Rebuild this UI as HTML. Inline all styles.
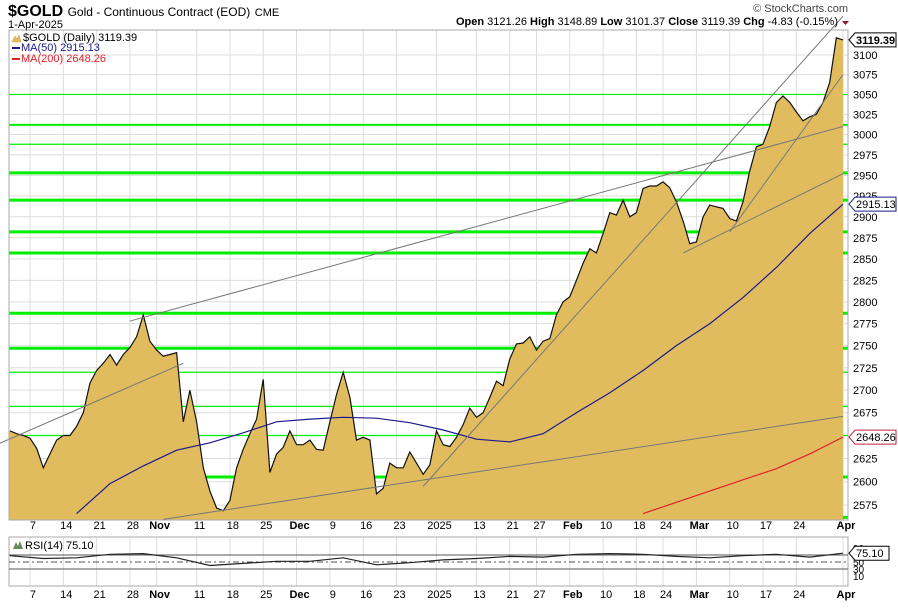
<!DOCTYPE html>
<html><head><meta charset="utf-8"><style>
body{margin:0;background:#fff;}
svg{display:block;font-family:"Liberation Sans",sans-serif;}
</style></head><body>
<svg id="c" width="898" height="608" viewBox="0 0 898 608">
<g id="grid"></g>
<g id="hlines"></g>
<path id="area" fill="#e0bc5e" stroke="none"/>
<path id="pline" fill="none" stroke="#111" stroke-width="1.2"/>
<polyline id="ma50" fill="none" stroke="#1a1a8c" stroke-width="1.2"/>
<polyline id="ma200" fill="none" stroke="#e0202a" stroke-width="1.2"/>
<g id="trend" stroke="#777" stroke-width="1"></g>
<rect x="9" y="30" width="839" height="490" fill="none" stroke="#aaa"/>
<g id="yax" font-size="11" fill="#000"></g>
<g id="xax" font-size="11" fill="#000"></g>
<g id="rsi"></g>
<text x="8" y="16" font-size="16" font-weight="bold">$GOLD <tspan font-size="12" font-weight="normal">Gold - Continuous Contract (EOD)</tspan> <tspan font-size="11" font-weight="normal">CME</tspan></text>
<text x="8" y="28" font-size="11">1-Apr-2025</text>
<text x="848" y="12" font-size="11" fill="#444" text-anchor="end">© StockCharts.com</text>
<text x="838" y="25" font-size="11" text-anchor="end"><tspan font-weight="bold">Open</tspan> 3121.26 <tspan font-weight="bold">High</tspan> 3148.89 <tspan font-weight="bold">Low</tspan> 3101.37 <tspan font-weight="bold">Close</tspan> 3119.39 <tspan font-weight="bold">Chg</tspan> -4.83 (-0.15%)</text>
<path d="M842 21 L849 21 L845.5 25 Z" fill="#8b1a2a"/>
<g font-size="11">
<path d="M12 42 L15 36 L17 39 L19 35 L21 42 Z" fill="#e0bc5e" stroke="#c9a040" stroke-width="0.5"/>
<text x="23" y="41">$GOLD (Daily) 3119.39</text>
<rect x="12" y="47" width="8" height="2" fill="#1a1a8c"/><text x="21" y="51" fill="#1a1a8c">MA(50) 2915.13</text>
<rect x="12" y="58" width="8" height="2" fill="#e0202a"/><text x="21" y="62" fill="#e0202a">MA(200) 2648.26</text>
</g>
</svg>
<script>
const prices=[2655,2652,2650,2647,2636,2615,2630,2645,2650,2650,2660,2675,2708,2722,2730,2740,2728,2740,2748,2760,2785,2755,2745,2738,2740,2742,2665,2700,2665,2615,2590,2572,2569,2580,2615,2635,2652,2668,2712,2610,2630,2637,2655,2640,2640,2645,2635,2634,2665,2695,2720,2692,2645,2648,2645,2587,2593,2620,2615,2615,2632,2620,2608,2618,2655,2640,2638,2648,2662,2680,2670,2675,2692,2710,2705,2735,2752,2753,2760,2745,2755,2758,2785,2800,2806,2825,2845,2862,2857,2880,2905,2902,2920,2900,2905,2934,2937,2937,2942,2935,2918,2895,2868,2870,2900,2914,2912,2910,2898,2895,2918,2955,2985,2988,3010,3040,3048,3040,3028,3017,3022,3025,3040,3065,3122,3119.39];
const ma50Start=10;
const ma50Weekly=[2566,2598,2617,2634,2642,2653,2665,2668,2670,2669,2664,2656,2646,2643,2652,2675,2697,2722,2750,2775,2805,2840,2880,2915.13];
const ma200Start=95;
const ma200Weekly=[2566,2578,2590,2602,2614,2630,2648.26];
const rsiWeekly=[68,60,62,72,74,62,40,46,52,52,62,42,48,56,60,66,64,72,74,72,66,62,68,72,64,75.1];
const yTicks=[3100,3075,3050,3025,3000,2975,2950,2925,2900,2875,2850,2825,2800,2775,2750,2725,2700,2675,2650,2625,2600,2575];
const xTickLabels=["7","14","21","28","Nov","11","18","25","Dec","9","16","23","2025","13","21","27","Feb","10","18","24","Mar","10","17","24","Apr"];
const xTickDays=[3,8,13,18,22,28,33,38,43,48,53,58,64,70,75,79,84,89,94,98,103,108,113,118,125];
const levelsThin=[3050,2988,2720,2682,2650];
const levelsMid=[3012];
const levelsThick=[2953,2920,2882,2857,2787,2747,2605,2562];
const trendLines=[[-2,2640,26,2730],[18,2778,125,3010],[62,2595,125,3150],[108,2882,125,3075],[101,2857,125,2952],[23,2560,125,2671]];
const rsiLevels=[70,50,30];

const NS="http://www.w3.org/2000/svg";
const L=9,R=848,T=30,B=520;
const xS=i=>10+i*(833/(prices.length-1));
const yS=v=>55+2426*Math.log(3100/v);
const rT=537,rB=586;
const yR=v=>579.5-v*0.35;
function mk(tag,parent,attrs){const e=document.createElementNS(NS,tag);for(const k in attrs)e.setAttribute(k,attrs[k]);document.getElementById(parent).appendChild(e);return e;}

yTicks.forEach(v=>{const e=mk('line','grid',{x1:L,x2:R,y1:yS(v),y2:yS(v),stroke:'#ddd'});


const t=mk('text','yax',{x:853,y:yS(v)+4});t.textContent=v;

});
xTickDays.forEach((d,k)=>{const x=xS(d);
const g=mk('line','grid',{x1:x,x2:x,y1:T,y2:B,stroke:'#ddd'});


const g2=mk('line','grid',{x1:x,x2:x,y1:rT,y2:rB,stroke:'#ddd'});


const bold=isNaN(+xTickLabels[k]);
[529,598].forEach(yy=>{const t=mk('text','xax',{x:x+3,y:yy,'text-anchor':'middle','font-weight':bold?'bold':'normal'});t.textContent=xTickLabels[k];

});});

[[levelsThin,1.2],[levelsMid,2],[levelsThick,3]].forEach(([arr,w])=>arr.forEach(v=>{const e=mk('line','hlines',{x1:L,x2:R,y1:yS(v),y2:yS(v),stroke:'#00ee00','stroke-width':w});

}));

let d='';prices.forEach((p,i)=>{d+=(i?'L':'M')+xS(i).toFixed(1)+' '+yS(p).toFixed(1);});
document.getElementById('pline').setAttribute('d',d);
document.getElementById('area').setAttribute('d','M'+L+' '+yS(prices[0]).toFixed(1)+d.replace('M','L')+'L'+xS(prices.length-1)+' '+B+'L'+L+' '+B+'Z');
document.getElementById('ma50').setAttribute('points',ma50Weekly.map((v,k)=>xS(ma50Start+k*5).toFixed(1)+','+Math.min(B,yS(v)).toFixed(1)).join(' '));
document.getElementById('ma200').setAttribute('points',ma200Weekly.map((v,k)=>xS(ma200Start+k*5).toFixed(1)+','+Math.min(B,yS(v)).toFixed(1)).join(' '));
trendLines.forEach(t=>{const e=mk('line','trend',{x1:xS(t[0]),y1:yS(t[1]),x2:xS(t[2]),y2:yS(t[3])});

});

function tag(txt,col,bold,y){const g=mk('g','yax',{});


const p=document.createElementNS(NS,'path');p.setAttribute('d',`M849 ${y} L855 ${y-7} L896 ${y-7} L896 ${y+7} L855 ${y+7} Z`);p.setAttribute('fill','#fff');p.setAttribute('stroke',col);g.appendChild(p);
const t=document.createElementNS(NS,'text');t.setAttribute('x',856);t.setAttribute('y',y+4);t.setAttribute('font-weight',bold?'bold':'normal');t.setAttribute('fill','#000');t.textContent=txt;g.appendChild(t);}
tag('3119.39','#000',true,yS(prices[prices.length-1]));
tag('2915.13','#1a1a8c',false,yS(2915.13));
tag('2648.26','#c0203a',false,yS(2648.26));

const rf=mk('rect','rsi',{x:L,y:rT,width:R-L,height:rB-rT,fill:'none',stroke:'#aaa'});


rsiLevels.forEach(v=>{const e=mk('line','rsi',{x1:L,x2:R,y1:yR(v),y2:yR(v),stroke:'#555','stroke-dasharray':v===50?'6,3,2,3':'none'});

});
const rl=mk('polyline','rsi',{fill:'none',stroke:'#222','stroke-width':1.2,points:rsiWeekly.map((v,k)=>xS(k*5).toFixed(1)+','+yR(v).toFixed(1)).join(' ')});


[[90,'90'],[50,'50'],[30,'30'],[10,'10']].forEach(([v,s])=>{const t=mk('text','rsi',{x:853,y:yR(v)+4,'font-size':10});t.textContent=s;

});
const rt=mk('text','rsi',{x:25,y:549,'font-size':11});rt.textContent='RSI(14) 75.10';


const ri=mk('path','rsi',{d:'M13 549 L16 542 L18 546 L20 541 L23 549 Z',fill:'#6a8a5a'});


const ry=yR(rsiWeekly[rsiWeekly.length-1]);
const rg=mk('path','rsi',{d:`M849 ${ry} L855 ${ry-7} L889 ${ry-7} L889 ${ry+7} L855 ${ry+7} Z`,fill:'#fff',stroke:'#000'});


const rv=mk('text','rsi',{x:856,y:ry+4,'font-size':11});rv.textContent='75.10';


</script>
</body></html>
